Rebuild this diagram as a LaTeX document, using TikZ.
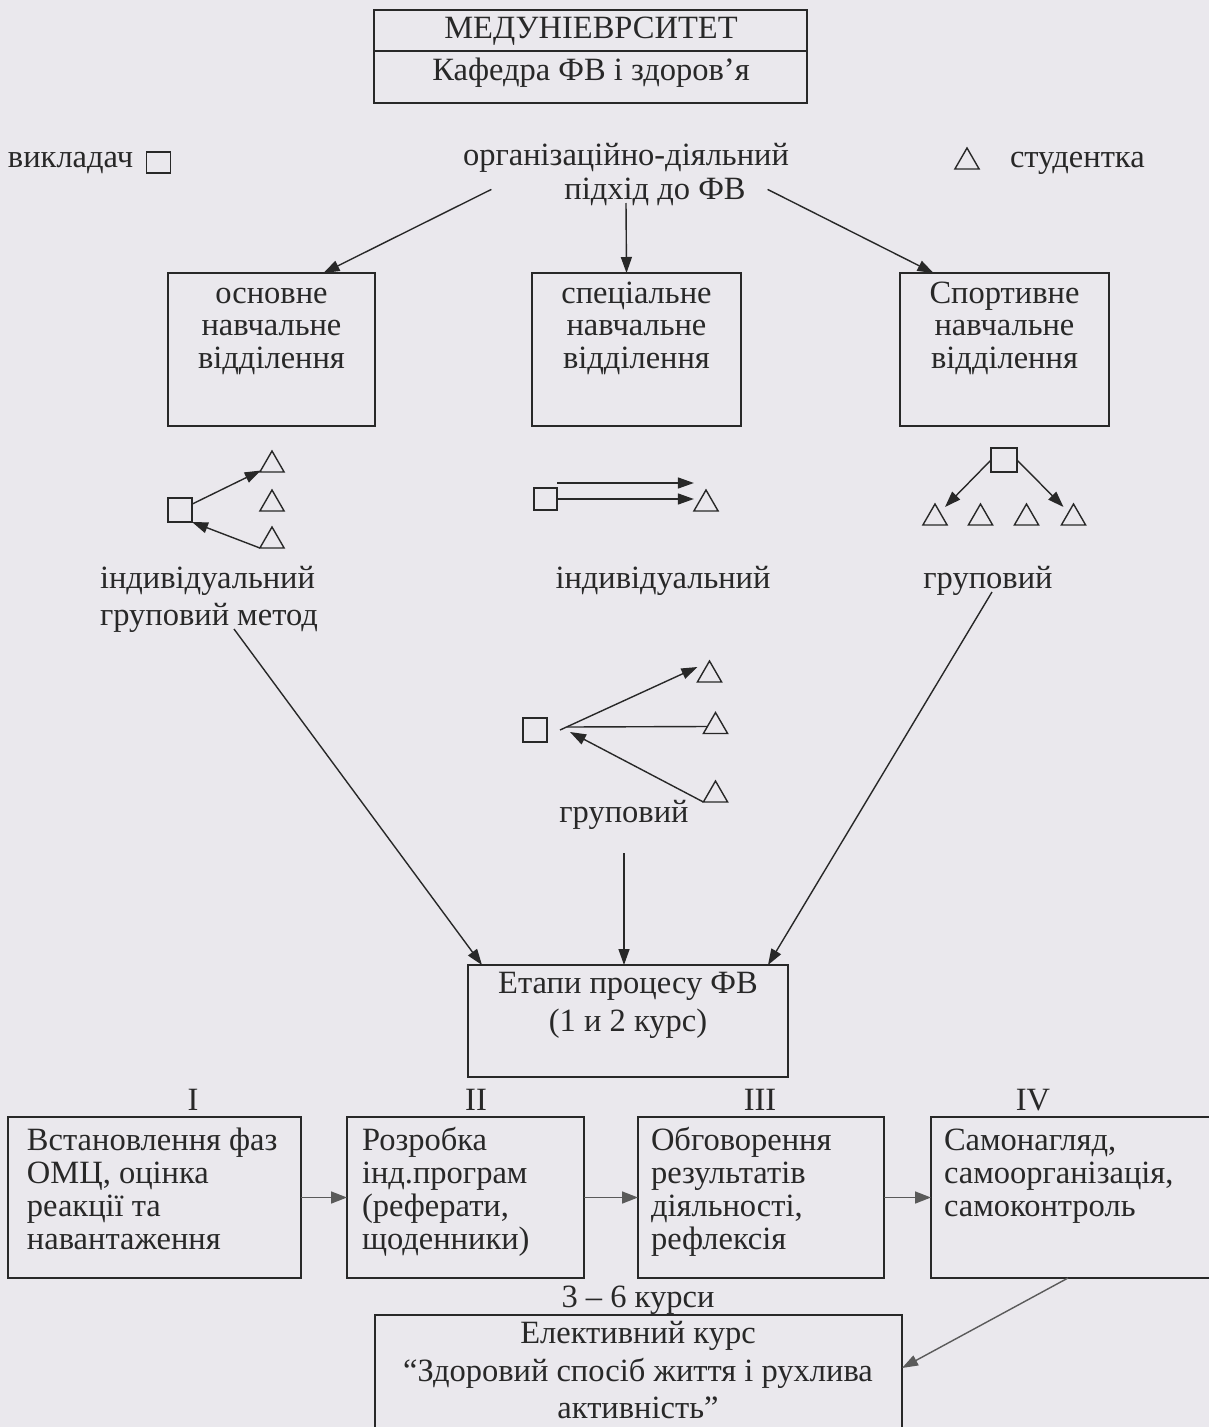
\documentclass[tikz,border=0pt]{standalone}
\usepackage{fontspec}
\setmainfont{Liberation Serif}
\usetikzlibrary{arrows.meta,shapes.geometric}
\definecolor{bg}{RGB}{234,232,237}
\definecolor{ink}{RGB}{40,40,40}
\definecolor{garr}{RGB}{90,90,90}
\begin{document}
\begin{tikzpicture}[x=1pt,y=-1pt,
  every node/.style={inner sep=0pt,outer sep=0pt},
  txt/.style={text=ink,font=\fontsize{32.5}{33}\selectfont},
  rbox/.style={draw=ink,line width=1.5pt,anchor=north west},
  tri/.style={draw=ink,line width=1.4pt,regular polygon,regular polygon sides=3,minimum size=28pt},
  sq/.style={draw=ink,line width=1.4pt,minimum width=23pt,minimum height=22pt},
  conn/.style={draw=ink,line width=1.4pt},
  arr/.style={draw=ink,line width=1.4pt,-{Triangle[length=16pt,width=11pt]}},
  garrow/.style={draw=garr,line width=1.6pt,-{Triangle[length=16pt,width=12pt]}}]
\fill[bg] (0,0) rectangle (1209,1427);
\useasboundingbox (0,0) rectangle (1209,1427);

% top box
\node[rbox,minimum width=433pt,minimum height=93pt] (top) at (374,10) {};
\draw[conn,line width=1.5pt] ([yshift=-41pt]top.north west) -- ([yshift=-41pt]top.north east);
\node[txt,anchor=base] (tmed) at (591,38) {МЕДУНІЕВРСИТЕТ};
\node[txt,anchor=base] (tkaf) at (591,80) {Кафедра ФВ і здоров’я};

% legend
\node[txt,anchor=base west] (vykl) at (8,167) {викладач};
\node[sq,minimum height=21pt,minimum width=24pt] (sqleg) at (158.5,162.5) {};
\node[tri] (trileg) at (967,162) {};
\node[txt,anchor=base west] (stud) at (1010,167) {студентка};
\node[txt,anchor=base] (org1) at (626,165) {організаційно-діяльний};
\node[txt,anchor=base] (org2) at (655,199) {підхід до ФВ};

% three departments
\node[rbox,minimum width=207pt,minimum height=153pt] (bosn) at (168,273) {};
\node[rbox,minimum width=209pt,minimum height=153pt] (bspec) at (532,273) {};
\node[rbox,minimum width=209pt,minimum height=153pt] (bsport) at (900,273) {};
\foreach \t [count=\i] in {основне,навчальне,відділення}
  \node[txt,anchor=base] (osn\i) at (271.5,{303+32.5*(\i-1)}) {\t};
\foreach \t [count=\i] in {спеціальне,навчальне,відділення}
  \node[txt,anchor=base] (spe\i) at (636.5,{303+32.5*(\i-1)}) {\t};
\foreach \t [count=\i] in {Спортивне,навчальне,відділення}
  \node[txt,anchor=base] (spo\i) at (1004.5,{303+32.5*(\i-1)}) {\t};

\draw[arr] ([xshift=-73pt,yshift=2pt]org2.west) -- ([xshift=52pt]bosn.north);
\draw[arr] ([xshift=-29pt,yshift=-4pt]org2.base) -- ([xshift=-10pt]bspec.north);
\draw[arr] ([xshift=22pt,yshift=2pt]org2.east) -- ([xshift=-71pt]bsport.north);

% left group
\node[sq,minimum width=24pt,minimum height=24pt] (sqL) at (180,510) {};
\node[tri] (tL1) at (272,465) {};
\node[tri] (tL2) at (272,504) {};
\node[tri] (tL3) at (272,541) {};
\draw[arr] (sqL) -- (tL1);
\draw[arr] (tL3.corner 2) -- (sqL.south east);

% middle group
\node[sq] (sqM) at (545.5,499) {};
\node[tri] (tM) at (706,504) {};
\draw[arr] ([yshift=5pt]sqM.north east) -- ([yshift=5pt]tM.corner 2 |- sqM.north east);
\draw[arr] (sqM.east) -- (sqM.east -| tM.corner 2);

% right group
\node[sq,minimum width=26pt,minimum height=24pt] (sqR) at (1004,460) {};
\node[tri] (tR1) at (935,518) {};
\node[tri] (tR2) at (980.5,518) {};
\node[tri] (tR3) at (1026.5,518) {};
\node[tri] (tR4) at (1073.5,518) {};
\draw[arr] (sqR.west) -- ([xshift=10pt,yshift=-3pt]tR1.corner 1);
\draw[arr] (sqR.east) -- ([xshift=-10pt,yshift=-3pt]tR4.corner 1);

% labels
\node[txt,anchor=base west] (ind1) at (100,588) {індивідуальний};
\node[txt,anchor=base west] (gm) at (100,625) {груповий метод};
\node[txt,anchor=base] (ind2) at (663,588) {індивідуальний};
\node[txt,anchor=base] (gr) at (988,588) {груповий};

% lower middle group
\node[sq,minimum width=24pt,minimum height=24pt] (sqB) at (535,730) {};
\coordinate (hub) at (560,730);
\node[tri] (tB1) at (709.5,675) {};
\node[tri] (tB2) at (715.5,726.5) {};
\node[tri] (tB3) at (715.5,795) {};
\draw[arr] (hub) -- ([xshift=-4pt,yshift=8pt]tB1.west);
\draw[conn] (tB2.west) -- ([xshift=7pt,yshift=3pt]hub);
\draw[arr] (tB3.corner 2) -- ([xshift=10pt,yshift=-2pt]hub);
\node[txt,anchor=base] (glow) at (624,822) {груповий};

% stages box
\node[rbox,minimum width=320pt,minimum height=112pt] (etap) at (468,965) {};
\node[txt,anchor=base] (et1) at (628,993) {Етапи процесу ФВ};
\node[txt,anchor=base] (et2) at (628,1031) {(1 и 2 курс)};

\draw[arr] ([xshift=134pt,yshift=-4pt]gm.base west) -- ([xshift=14pt]etap.north west);
\draw[arr] ([xshift=4pt,yshift=-4pt]gr.base) -- ([xshift=-20pt]etap.north east);
\draw[arr] ([yshift=-31pt]glow.base) -- (glow.base |- etap.north);

% roman numerals
\node[txt,anchor=base] (r1) at (193,1110) {I};
\node[txt,anchor=base] (r2) at (476,1110) {II};
\node[txt,anchor=base] (r3) at (760,1110) {III};
\node[txt,anchor=base] (r4) at (1033,1110) {IV};

% bottom row
\node[rbox,minimum width=293pt,minimum height=161pt] (b1) at (8,1117) {};
\node[rbox,minimum width=237pt,minimum height=161pt] (b2) at (347,1117) {};
\node[rbox,minimum width=246pt,minimum height=161pt] (b3) at (638,1117) {};
\node[rbox,minimum width=284pt,minimum height=161pt] (b4) at (931,1117) {};
\foreach \t [count=\i] in {Встановлення фаз,{ОМЦ, оцінка},реакції та,навантаження}
  \node[txt,anchor=base west] (b1t\i) at (27,{1150+33.3*(\i-1)}) {\t};
\foreach \t [count=\i] in {Розробка,інд.програм,{(реферати,},щоденники)}
  \node[txt,anchor=base west] (b2t\i) at (362,{1150+33.3*(\i-1)}) {\t};
\foreach \t [count=\i] in {Обговорення,результатів,{діяльності,},рефлексія}
  \node[txt,anchor=base west] (b3t\i) at (651,{1150+33.3*(\i-1)}) {\t};
\foreach \t [count=\i] in {{Самонагляд,},{самоорганізація,},самоконтроль}
  \node[txt,anchor=base west] (b4t\i) at (944,{1150+33.3*(\i-1)}) {\t};
\draw[garrow] (b1.east) -- (b2.west);
\draw[garrow] (b2.east) -- (b3.west);
\draw[garrow] (b3.east) -- (b4.west);

% elective
\node[txt,anchor=base] (kur) at (638,1307) {3 – 6 курси};
\node[rbox,minimum width=527pt,minimum height=130pt] (el) at (375,1315) {};
\node[txt,anchor=base] (el1) at (638,1343) {Елективний курс};
\node[txt,anchor=base] (el2) at (638,1381) {“Здоровий спосіб життя і рухлива};
\node[txt,anchor=base] (el3) at (638,1418) {активність”};
\draw[arr,draw=garr] ([xshift=-5pt]b4.south) -- ([yshift=-53pt]el.north east);
\end{tikzpicture}
\end{document}
